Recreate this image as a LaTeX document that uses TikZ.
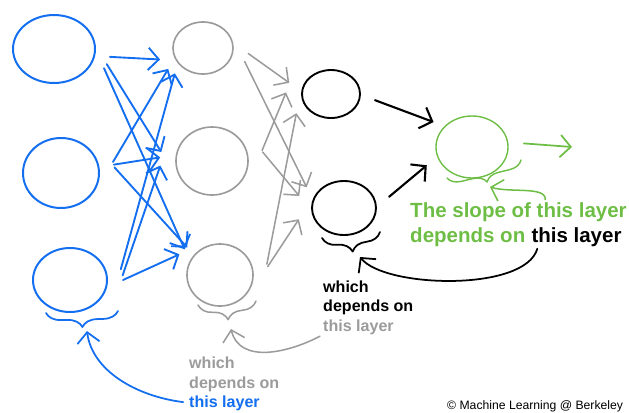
\documentclass[tikz,border=0pt]{standalone}
\usepackage{fontspec}
\setmainfont{Liberation Sans}
\usetikzlibrary{shapes.geometric,arrows.meta,decorations.pathreplacing}

\definecolor{inblue}{RGB}{20,110,240}
\definecolor{midgray}{RGB}{155,155,155}
\definecolor{outgreen}{RGB}{110,190,70}

\tikzset{
	neuron/.style={draw, ellipse, inner sep=0pt, outer xsep=0.48cm, outer ysep=0.18cm},
	dims/.style 2 args={minimum width=#1*0.03cm, minimum height=#2*0.03cm},
	wire/.style={-{Straight Barb[length=9pt,width=19pt]}, line cap=round, line join=round},
	curly/.style={decorate, decoration={brace, mirror, amplitude=#1}, line cap=round, line join=round},
	note/.style={inner sep=0pt, anchor=base west, font=\bfseries\fontsize{13.7}{16}\selectfont},
	bignote/.style={inner sep=0pt, anchor=base west, font=\bfseries\fontsize{17.5}{21}\selectfont},
}

\begin{document}
\begin{tikzpicture}[x=0.03cm, y=-0.03cm, line cap=round]
	\useasboundingbox (0,0) rectangle (629,412);

	\node[neuron, draw=inblue, line width=1.7pt, dims={82}{68}] (b1) at (54,49) {};
	\node[neuron, draw=inblue, line width=1.7pt, dims={76}{70}] (b2) at (61,173) {};
	\node[neuron, draw=inblue, line width=1.7pt, dims={74}{64}] (b3) at (70,280) {};

	\node[neuron, draw=midgray, line width=1.4pt, dims={60}{52}] (g1) at (203,48) {};
	\node[neuron, draw=midgray, line width=1.4pt, dims={72}{68}] (g2) at (212,161) {};
	\node[neuron, draw=midgray, line width=1.4pt, dims={66}{62}] (g3) at (220,275) {};

	\node[neuron, draw=black, line width=1.6pt, dims={58}{48}] (k1) at (331,94) {};
	\node[neuron, draw=black, line width=1.6pt, dims={64}{54}] (k2) at (344,208) {};

	\node[neuron, draw=outgreen, line width=1.2pt, dims={72}{62}] (out) at (472,147) {};
	\coordinate (next) at (572,147);

	\draw[wire, inblue, line width=1.6pt] (b1.-8) -- (g1.195);
	\draw[wire, inblue, line width=1.6pt] (b1.-16) -- (g2.170);
	\draw[wire, inblue, line width=1.6pt] (b1.-21) -- (g3.144);
	\draw[wire, inblue, line width=1.6pt] (b2.12) -- (g1.211);
	\draw[wire, inblue, line width=1.6pt] (b2.9) -- (g2.176);
	\draw[wire, inblue, line width=1.6pt] (b2.6) -- (g3.140);
	\draw[wire, inblue, line width=1.6pt] (b3.12) -- (g1.222);
	\draw[wire, inblue, line width=1.6pt] (b3.5) -- (g2.185);
	\draw[wire, inblue, line width=1.6pt] (b3.0) -- (g3.153);

	\draw[wire, midgray, line width=1.3pt] (g1.-7) -- (k1.165);
	\draw[wire, midgray, line width=1.3pt] (g1.-18) -- (k2.151);
	\draw[wire, midgray, line width=1.3pt] (g2.12) -- (k1.178);
	\draw[wire, midgray, line width=1.3pt] (g2.10) -- (k2.165);
	\draw[wire, midgray, line width=1.3pt] (g3.13) -- (k1.209);
	\draw[wire, midgray, line width=1.3pt] (g3.10) -- (k2.194);

	\draw[wire, black, line width=1.8pt] (k1.-8) -- (out.147);
	\draw[wire, black, line width=1.8pt] (k2.14) -- (out.202);
	\draw[wire, outgreen, line width=1.5pt] (out.4) -- (next);

	\draw[curly=0.45cm, inblue, line width=1.5pt] (46,313) -- (118,311);
	\draw[curly=0.5cm, midgray, line width=1.3pt] (198,305) -- (256,301);
	\draw[curly=0.5cm, black, line width=1.5pt] (322,238) -- (380,232);
	\draw[curly=0.4cm, outgreen, line width=1.2pt] (447,178) -- (521,160);
	\coordinate (bluetip) at (87,331);
	\coordinate (graytip) at (231,329);
	\coordinate (blacktip) at (360,257);
	\coordinate (greentip) at (490,187);

	\node[bignote, outgreen] (slope) at (410,217) {The slope of this layer};
	\node[bignote, outgreen] (depends) at (410,242) {depends on};
	\node[bignote, black] (thislayer) at ([xshift=4.9pt]depends.base east) {this layer};

	\node[note, black] (which1) at (323,292) {which};
	\node[note, black] (depends1) at (323,311) {depends on};
	\node[note, midgray] (layer1) at (323,331) {this layer};

	\node[note, midgray] (which2) at (189,368) {which};
	\node[note, midgray] (depends2) at (189,388) {depends on};
	\node[note, inblue] (layer2) at (189,407) {this layer};

	\node[inner sep=0pt, anchor=base west, font=\fontsize{10.4}{12}\selectfont] (credit) at (447,409) {\textcopyright\ Machine Learning @ Berkeley};

	\draw[wire, outgreen, line width=1.3pt, shorten <=2pt] ([xshift=0.8cm]slope.north) .. controls (546,186) and (510,193) .. (greentip);
	\draw[wire, black, line width=1.5pt, shorten <=2pt] ([xshift=0.2cm]thislayer.south west) .. controls (525,292) and (385,288) .. (blacktip);
	\draw[wire, midgray, line width=1.3pt, shorten <=3pt] (layer1.south west) .. controls (290,352) and (240,365) .. (graytip);
	\draw[wire, inblue, line width=1.5pt, shorten <=5pt] (layer2.west) .. controls (135,396) and (92,370) .. (bluetip);
\end{tikzpicture}
\end{document}
